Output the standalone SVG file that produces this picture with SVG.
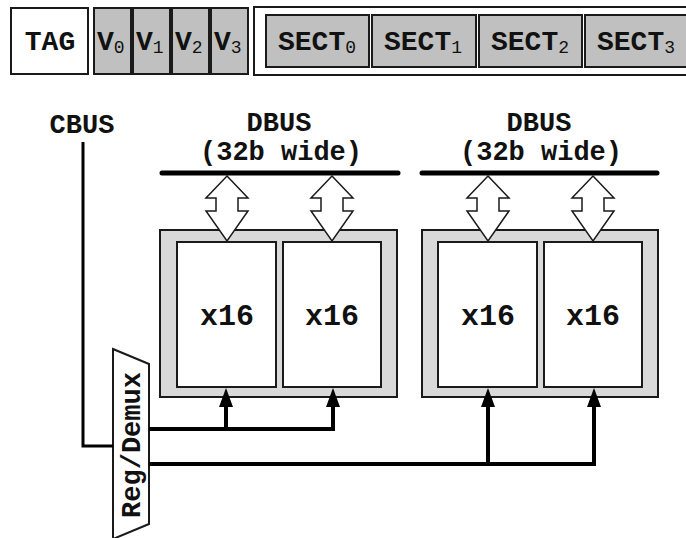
<svg xmlns="http://www.w3.org/2000/svg" width="686" height="538" viewBox="0 0 686 538">
<style>
text{font-family:"Liberation Mono","Courier New",monospace;font-weight:bold;fill:#111;}
.hdr{font-size:28px;}
.sub{font-weight:normal;font-size:18px;}
.lbl{font-size:27px;text-anchor:middle;}
.big{font-size:30px;text-anchor:middle;}
.gbox{fill:#c0c0c0;stroke:#1a1a1a;stroke-width:2;}
.wbox{fill:#fff;stroke:#1a1a1a;stroke-width:2;}
.frame{fill:#d9d9d9;stroke:#1a1a1a;stroke-width:2;}
.bus{stroke:#000;stroke-width:5;stroke-linecap:round;fill:none;}
.wire{stroke:#000;stroke-width:4;fill:none;}
.hollow{fill:#fff;stroke:#1a1a1a;stroke-width:1.5;stroke-linejoin:miter;}
</style>
<defs>
<marker id="ah" viewBox="0 0 19 14" refX="7" refY="7" markerWidth="19" markerHeight="14" markerUnits="userSpaceOnUse" orient="auto">
<path d="M0,0 L19,7 L0,14 Z" fill="#000"/>
</marker>
</defs>
<g id="header">
<g id="tag"><rect class="wbox" x="11" y="8" width="77" height="66"/><text class="hdr" x="50" y="50" text-anchor="middle">TAG</text></g>
<g id="v0"><rect class="gbox" x="94" y="8" width="37" height="66"/><text class="hdr" x="97" y="50">V<tspan class="sub" dy="3">0</tspan></text></g>
<g id="v1"><rect class="gbox" x="133" y="8" width="37" height="66"/><text class="hdr" x="136" y="50">V<tspan class="sub" dy="3">1</tspan></text></g>
<g id="v2"><rect class="gbox" x="172" y="8" width="37" height="66"/><text class="hdr" x="175" y="50">V<tspan class="sub" dy="3">2</tspan></text></g>
<g id="v3"><rect class="gbox" x="211" y="8" width="37" height="66"/><text class="hdr" x="214" y="50">V<tspan class="sub" dy="3">3</tspan></text></g>
<g id="sectframe"><rect class="wbox" x="254" y="7" width="450" height="68"/></g>
<g id="sect0"><rect class="gbox" x="266" y="15" width="103" height="52"/><text class="hdr" x="278" y="50">SECT<tspan class="sub" dy="3">0</tspan></text></g>
<g id="sect1"><rect class="gbox" x="372" y="15" width="104" height="52"/><text class="hdr" x="384" y="50">SECT<tspan class="sub" dy="3">1</tspan></text></g>
<g id="sect2"><rect class="gbox" x="479" y="15" width="103" height="52"/><text class="hdr" x="491" y="50">SECT<tspan class="sub" dy="3">2</tspan></text></g>
<g id="sect3"><rect class="gbox" x="585" y="15" width="120" height="52"/><text class="hdr" x="597" y="50">SECT<tspan class="sub" dy="3">3</tspan></text></g>
</g>
<g id="cbus"><text class="lbl" x="82" y="133">CBUS</text></g>
<g id="dbus1"><text class="lbl" x="279" y="131">DBUS</text><text class="lbl" x="281" y="160">(32b wide)</text><line class="bus" x1="162" y1="173" x2="398" y2="173"/></g>
<g id="dbus2"><text class="lbl" x="539" y="131">DBUS</text><text class="lbl" x="541" y="160">(32b wide)</text><line class="bus" x1="422" y1="173" x2="657" y2="173"/></g>
<g id="bank1"><rect class="frame" x="160" y="230" width="237" height="167"/></g>
<g id="bank2"><rect class="frame" x="422" y="230" width="236" height="167"/></g>
<g id="chip1"><rect class="wbox" x="177" y="242" width="99" height="145"/><text class="big" x="227" y="325">x16</text></g>
<g id="chip2"><rect class="wbox" x="283" y="242" width="98" height="145"/><text class="big" x="332" y="325">x16</text></g>
<g id="chip3"><rect class="wbox" x="438" y="242" width="99" height="145"/><text class="big" x="488" y="325">x16</text></g>
<g id="chip4"><rect class="wbox" x="544" y="242" width="98" height="145"/><text class="big" x="593" y="325">x16</text></g>
<g id="demux"><path class="wbox" d="M113,349 L149,364 L149,524 L113,539 Z"/><text class="lbl" transform="translate(140,445) rotate(-90)" x="0" y="0">Reg/Demux</text></g>
<g id="connectors">
<path class="hollow" d="M227,176 L248,198 L238,198 L238,211 L248,211 L227,241 L206,211 L216,211 L216,198 L206,198 Z"/>
<path class="hollow" d="M332,176 L353,198 L343,198 L343,211 L353,211 L332,241 L311,211 L321,211 L321,198 L311,198 Z"/>
<path class="hollow" d="M488,176 L509,198 L499,198 L499,211 L509,211 L488,241 L467,211 L477,211 L477,198 L467,198 Z"/>
<path class="hollow" d="M593,176 L614,198 L604,198 L604,211 L614,211 L593,241 L572,211 L582,211 L582,198 L572,198 Z"/>
<path d="M83,142 L83,446 L113,446" stroke="#000" stroke-width="3" fill="none"/>
<path class="wire" d="M149,429 L335,429"/>
<path class="wire" d="M226,429 L226,400" marker-end="url(#ah)"/>
<path class="wire" d="M333,431 L333,400" marker-end="url(#ah)"/>
<path class="wire" d="M149,464 L596,464"/>
<path class="wire" d="M488,464 L488,400" marker-end="url(#ah)"/>
<path class="wire" d="M594,466 L594,400" marker-end="url(#ah)"/>
</g>
</svg>
